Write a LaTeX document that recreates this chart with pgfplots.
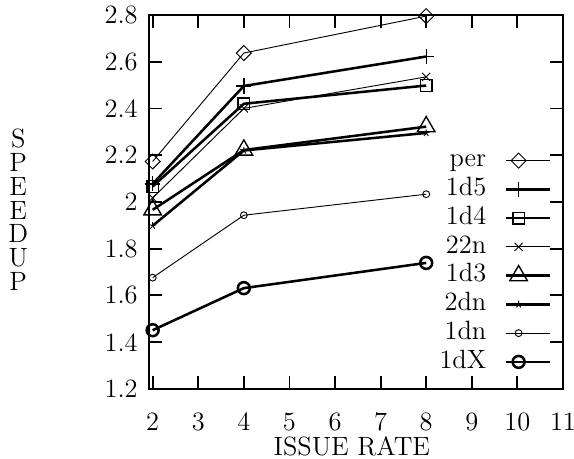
\documentclass[border=0pt]{standalone}
\usepackage{fontspec}
\usepackage{pgfplots}
\pgfplotsset{compat=1.18}

\begin{document}
\begin{tikzpicture}
\begin{axis}[
  name=ax,
  scale only axis,
  width=180pt, height=162.6pt,
  xmin=1.92, xmax=11, ymin=1.2, ymax=2.8,
  xtick={2,...,11},
  ytick={1.2,1.4,1.6,1.8,2,2.2,2.4,2.6,2.8},
  yticklabels={1.2,1.4,1.6,1.8,2,2.2,2.4,2.6,2.8},
  tick align=inside,
  major tick length=5.7pt,
  axis line style={line width=0.8pt},
  every tick/.style={black, line width=0.8pt},
  font=\fontsize{11.5}{12}\selectfont,
  /pgf/number format/assume math mode=true,
  xticklabel style={yshift=-7pt},
  yticklabel style={xshift=-1.4pt},
  xlabel={ISSUE RATE},
  xlabel style={at={(axis description cs:0.49,-0.155)}, anchor=center},
  ylabel={S\\P\\E\\E\\D\\U\\P},
  ylabel style={rotate=-90, align=center, font=\fontsize{11.5}{10.4}\selectfont,
    at={(axis description cs:-0.316,0.479)}, anchor=center},
  legend plot pos=right,
  legend cell align=right,
  legend style={draw=none, fill=none, inner sep=0pt, row sep=0pt, column sep=7pt,
    at={(axis description cs:0.972,0.65)}, anchor=north east,
    nodes={inner sep=1pt, text height=8pt, text depth=2.5pt}},
  legend image code/.code={\draw[mark repeat=2,mark phase=2,#1]
    plot coordinates {(0pt,0pt) (5.5pt,0pt) (19pt,0pt)};},
]
% per
\addplot[black, line width=0.4pt, mark=square, mark size=2.3pt, mark options={rotate=45}]
  coordinates {(2,2.173) (4,2.637) (8,2.795)};
% 1d5
\addplot[black, line width=1.1pt, mark=+, mark size=3.3pt, mark options={line width=0.6pt}]
  coordinates {(2,2.077) (4,2.496) (8,2.622)};
% 1d4
\addplot[black, line width=1.1pt, mark=square, mark size=2.5pt, mark options={line width=0.6pt}]
  coordinates {(2,2.066) (4,2.42) (8,2.498)};
% 22n
\addplot[black, line width=0.4pt, mark=x, mark size=2.5pt]
  coordinates {(2,2.017) (4,2.40) (8,2.535)};
% 1d3
\addplot[black, line width=1.1pt, mark=triangle, mark size=4.4pt, mark options={line width=0.6pt}]
  coordinates {(2,1.966) (4,2.222) (8,2.322)};
% 2dn
\addplot[black, line width=1.1pt, mark=star, mark size=1.6pt, mark options={line width=0.4pt}]
  coordinates {(2,1.898) (4,2.22) (8,2.295)};
% 1dn
\addplot[black, line width=0.4pt, mark=o, mark size=1.5pt]
  coordinates {(2,1.676) (4,1.943) (8,2.033)};
% 1dX
\addplot[black, line width=1.1pt, mark=o, mark size=2.6pt]
  coordinates {(2,1.451) (4,1.631) (8,1.739)};
\legend{per,1d5,1d4,22n,1d3,2dn,1dn,1dX}
\end{axis}
\pgfresetboundingbox
\path ([shift={(-64.8pt,-30.4pt)}]ax.south west) rectangle ([shift={(4.8pt,6.5pt)}]ax.north east);
\end{tikzpicture}
\end{document}
